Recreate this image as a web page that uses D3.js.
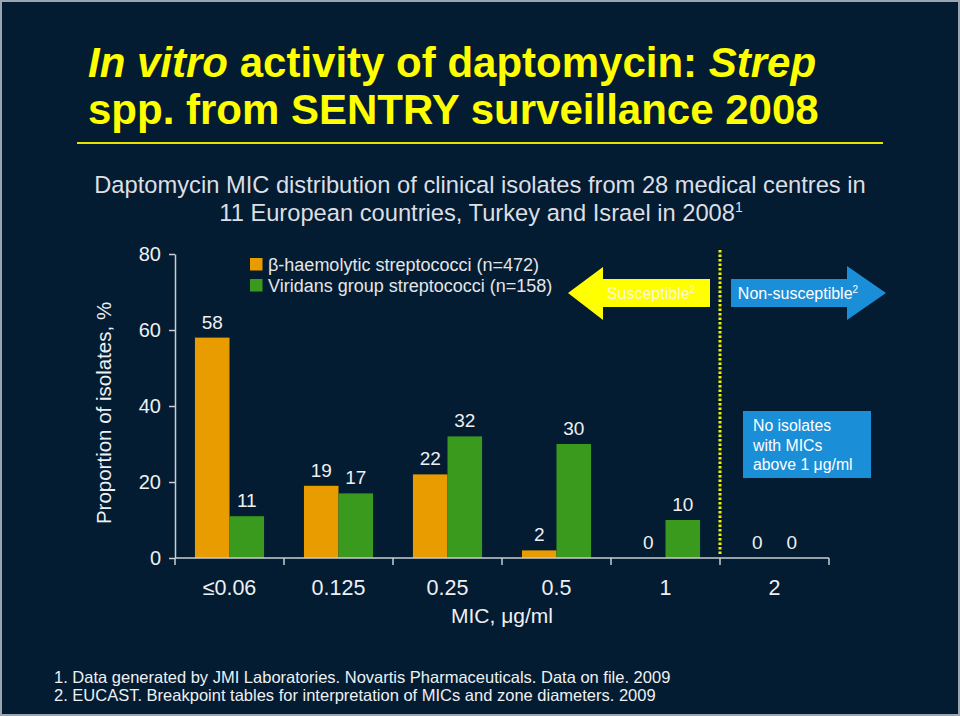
<!DOCTYPE html>
<html>
<head>
<meta charset="utf-8">
<script src="https://cdn.jsdelivr.net/npm/d3@7"></script>
<style>
html,body{margin:0;padding:0;background:#031c32;}
svg{display:block;}
text{font-family:"Liberation Sans",Arial,Helvetica,sans-serif;}
</style>
</head>
<body>
<svg id="chart" width="960" height="716"></svg>
<script>
const categories = ["≤0.06", "0.125", "0.25", "0.5", "1", "2"];
const seriesNames = ["β-haemolytic streptococci (n=472)", "Viridans group streptococci (n=158)"];
const betaValues = [58, 19, 22, 2, 0, 0];
const viridansValues = [11, 17, 32, 30, 10, 0];
const yTicks = [0, 20, 40, 60, 80];
const seriesColors = ["#e89c00", "#3a9a1e"];
const titleLine1 = [["In vitro", true], [" activity of daptomycin: ", false], ["Strep", true]];
const titleLine2 = "spp. from SENTRY surveillance 2008";
const subtitle1 = "Daptomycin MIC distribution of clinical isolates from 28 medical centres in";
const subtitle2 = "11 European countries, Turkey and Israel in 2008";
const footnotes = ["1. Data generated by JMI Laboratories. Novartis Pharmaceuticals. Data on file. 2009",
                   "2. EUCAST. Breakpoint tables for interpretation of MICs and zone diameters. 2009"];
const boxLines = ["No isolates", "with MICs", "above 1 μg/ml"];

const svg = d3.select("#chart");
svg.append("rect").attr("x",1).attr("y",1).attr("width",958).attr("height",714)
  .attr("fill","#031c32").attr("stroke","#9aa6b0").attr("stroke-width",2);

// Title
const t1 = svg.append("text").attr("x",88).attr("y",77).attr("fill","#ffff00")
  .attr("font-size",42).attr("font-weight","bold");
titleLine1.forEach(([s,it]) => t1.append("tspan").text(s).attr("font-style", it ? "italic" : "normal"));
svg.append("text").attr("x",88).attr("y",124).attr("fill","#ffff00")
  .attr("font-size",42).attr("font-weight","bold")
  .text(titleLine2);
svg.append("line").attr("x1",77).attr("x2",883).attr("y1",143).attr("y2",143)
  .attr("stroke","#e8e400").attr("stroke-width",2);

// Subtitle
svg.append("text").attr("x",480).attr("y",193).attr("text-anchor","middle")
  .attr("fill","#dcdfe3").attr("font-size",23.7).text(subtitle1);
const st2 = svg.append("text").attr("x",481).attr("y",221).attr("text-anchor","middle")
  .attr("fill","#dcdfe3").attr("font-size",23.7);
st2.append("tspan").text(subtitle2);
st2.append("tspan").text("1").attr("font-size",14).attr("dy",-9);

// Scales
const x0 = d3.scaleBand().domain(categories).range([175, 829]).paddingInner(0.366).paddingOuter(0.183);
const x1 = d3.scaleBand().domain([0,1]).range([0, x0.bandwidth()]);
const y = d3.scaleLinear().domain([0, 80]).range([558, 254]);
const axisColor = "#c9ced3";

// Y axis
const yAxis = svg.append("g").attr("transform","translate(175,0)")
  .call(d3.axisLeft(y).tickValues(yTicks).tickSize(6).tickSizeOuter(0));
yAxis.select(".domain").attr("stroke",axisColor).attr("stroke-width",1.5);
yAxis.selectAll(".tick line").attr("stroke",axisColor).attr("stroke-width",1.5);
yAxis.selectAll(".tick text").attr("fill","#eef0f2").attr("font-size",20)
  .style("font-family","'Liberation Sans',Arial,sans-serif").attr("x",-14);

svg.append("text").attr("transform","translate(111,413) rotate(-90)")
  .attr("text-anchor","middle").attr("fill","#eef0f2").attr("font-size",20.5)
  .text("Proportion of isolates, %");

// Bars
const data = categories.map((c,i) => ({cat:c, vals:[betaValues[i], viridansValues[i]]}));
const groups = svg.selectAll("g.grp").data(data).join("g").attr("class","grp")
  .attr("transform", d => `translate(${x0(d.cat)},0)`);
groups.selectAll("rect").data(d => d.vals.map((v,k)=>({v,k}))).join("rect")
  .attr("x", d => x1(d.k)).attr("width", x1.bandwidth())
  .attr("y", d => y(d.v)).attr("height", d => y(0) - y(d.v))
  .attr("fill", d => seriesColors[d.k]);
groups.selectAll("text.val").data(d => d.vals.map((v,k)=>({v,k}))).join("text").attr("class","val")
  .attr("x", d => x1(d.k) + x1.bandwidth()/2).attr("y", d => y(d.v) - 9)
  .attr("text-anchor","middle").attr("fill","#eef0f2").attr("font-size",19)
  .text(d => d.v);

// X axis
const step = x0.step();
const bounds = d3.range(categories.length + 1).map(i => 175 + i*step);
svg.append("line").attr("x1",175).attr("x2",bounds[bounds.length-1]).attr("y1",y(0)).attr("y2",y(0))
  .attr("stroke",axisColor).attr("stroke-width",1.5);
svg.selectAll("line.xt").data(bounds).join("line").attr("class","xt")
  .attr("x1",d=>d).attr("x2",d=>d).attr("y1",y(0)).attr("y2",y(0)+7)
  .attr("stroke",axisColor).attr("stroke-width",1.5);
svg.selectAll("text.xl").data(categories).join("text").attr("class","xl")
  .attr("x", d => x0(d) + x0.bandwidth()/2).attr("y", 595)
  .attr("text-anchor","middle").attr("fill","#eef0f2").attr("font-size",21.5).text(d=>d);
svg.append("text").attr("x",502).attr("y",623).attr("text-anchor","middle")
  .attr("fill","#eef0f2").attr("font-size",21).text("MIC, μg/ml");

// Breakpoint dotted line
const bp = bounds[5];
svg.append("line").attr("x1",bp).attr("x2",bp).attr("y1",250).attr("y2",554)
  .attr("stroke","#f4f200").attr("stroke-width",3).attr("stroke-dasharray","2.5,2");

// Legend
seriesNames.forEach((n,k) => {
  svg.append("rect").attr("x",250).attr("y",258 + k*21).attr("width",12.5).attr("height",12.5)
    .attr("fill",seriesColors[k]);
  svg.append("text").attr("x",268).attr("y",271 + k*21).attr("fill","#e3e6e9")
    .attr("font-size",18).text(n);
});

// Arrows
const ay = 293;
svg.append("path").attr("d",`M568,${ay} L603,${ay-26} L603,${ay-14} L710,${ay-14} L710,${ay+14} L603,${ay+14} L603,${ay+27} Z`)
  .attr("fill","#ffff00");
const sT = svg.append("text").attr("x",651).attr("y",ay+6).attr("text-anchor","middle")
  .attr("fill","#fafad0").attr("font-size",16);
sT.append("tspan").text("Susceptible");
sT.append("tspan").text("2").attr("font-size",10).attr("dy",-6);

svg.append("path").attr("d",`M731,${ay-14} L847,${ay-14} L847,${ay-27} L886,${ay} L847,${ay+27} L847,${ay+14} L731,${ay+14} Z`)
  .attr("fill","#1b8ed8");
const nT = svg.append("text").attr("x",798).attr("y",ay+6).attr("text-anchor","middle")
  .attr("fill","#ffffff").attr("font-size",16);
nT.append("tspan").text("Non-susceptible");
nT.append("tspan").text("2").attr("font-size",10).attr("dy",-6);

// Info box
svg.append("rect").attr("x",743).attr("y",411).attr("width",128).attr("height",67).attr("fill","#1b8ed8");
boxLines.forEach((l,i) => svg.append("text").attr("x",753).attr("y",431 + i*19.5)
  .attr("fill","#ffffff").attr("font-size",15.8).text(l));

// Footnotes
footnotes.forEach((f,i) => svg.append("text").attr("x",54).attr("y",683 + i*18)
  .attr("fill","#eef0f2").attr("font-size",16.5).text(f));
</script>
</body>
</html>
